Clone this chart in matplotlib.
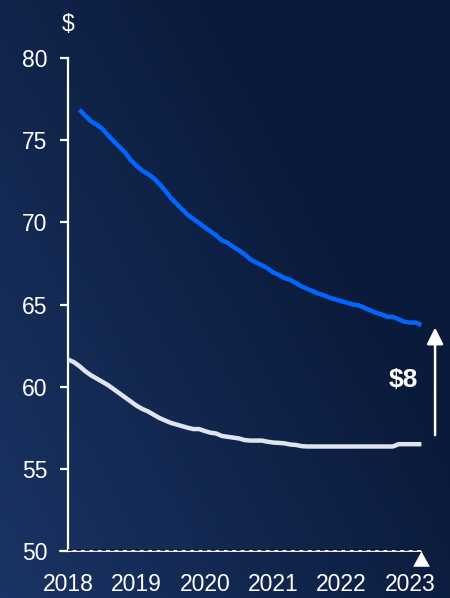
import numpy as np
import pandas as pd
import matplotlib
matplotlib.use("Agg")
import matplotlib.pyplot as plt
from matplotlib.path import Path
from matplotlib.colors import LinearSegmentedColormap

plt.rcParams['font.family'] = ['Liberation Sans', 'DejaVu Sans']

# monthly values, $
blue_start = "2018-03"
blue_vals = [76.85, 76.5, 76.15, 75.95, 75.7, 75.3, 74.95, 74.6, 74.25, 73.8,
             73.45, 73.15, 72.95, 72.7, 72.35, 71.95, 71.5, 71.15, 70.8, 70.45, 70.2, 69.95,
             69.7, 69.45, 69.2, 68.9, 68.75, 68.5, 68.3, 68.05, 67.75, 67.55, 67.4, 67.2,
             66.95, 66.8, 66.6, 66.5, 66.3, 66.1, 65.95, 65.8, 65.65, 65.55, 65.4, 65.3,
             65.2, 65.1, 65.0, 64.95, 64.8, 64.65, 64.5, 64.4, 64.25, 64.25, 64.1, 63.95,
             63.9, 63.9, 63.75]
white_start = "2018-01"
white_vals = [61.65, 61.5, 61.25, 60.95, 60.7, 60.5, 60.3, 60.1, 59.85, 59.6, 59.35, 59.1,
              58.85, 58.65, 58.5, 58.3, 58.1, 57.95, 57.8, 57.7, 57.6, 57.5, 57.42, 57.42,
              57.3, 57.2, 57.15, 57.0, 56.95, 56.9, 56.85, 56.75, 56.72, 56.72, 56.72, 56.65,
              56.6, 56.58, 56.55, 56.48, 56.45, 56.38, 56.36,
              56.36, 56.36, 56.36, 56.36, 56.36, 56.36, 56.36, 56.36, 56.36, 56.36,
              56.36, 56.36, 56.36, 56.36, 56.36,
              56.5, 56.5, 56.5, 56.5, 56.5]
years = [2018, 2019, 2020, 2021, 2022, 2023]
gap_label = "$8"


def to_year(start, n):
    d = pd.date_range(start, periods=n, freq="MS")
    return d.year + (d.month - 1) / 12


bx = to_year(blue_start, len(blue_vals))
wx = to_year(white_start, len(white_vals))

fig = plt.figure(figsize=(4.5, 5.98), dpi=100)

# background gradient, lighter toward bottom-left
bg = fig.add_axes([0, 0, 1, 1], zorder=-10)
cmap = LinearSegmentedColormap.from_list("bg", ["#1b3465", "#0a1a3a"])
gx, gy = np.meshgrid(np.linspace(0, 1, 200), np.linspace(0, 1, 200))
grad = np.clip(gx * 0.85 + gy * 0.6, 0, 1)
bg.imshow(grad, cmap=cmap, aspect="auto", origin="lower", extent=[0, 1, 0, 1])
bg.axis("off")

ax = fig.add_axes([68 / 450, 47 / 598, 370 / 450, 493 / 598])
ax.patch.set_alpha(0)
ax.set_xlim(2018, 2018 + 370 / 68.4)
ax.set_ylim(50, 80)

ax.plot(bx, blue_vals, color="#0066ff", lw=3.2, solid_capstyle="butt", zorder=3)
ax.plot(wx, white_vals, color="#dfe4ee", lw=3.2, solid_capstyle="butt", zorder=3)

for s in ["top", "right", "bottom"]:
    ax.spines[s].set_visible(False)
ax.spines["left"].set_color("white")
ax.spines["left"].set_linewidth(1.6)

# baseline: solid white with dark dashes on top
x_end = wx[-1]
ax.plot([2017.88, x_end], [50, 50], color="white", lw=1.3, clip_on=False, zorder=4)
ax.plot([2018, x_end + 0.11], [50.08, 50.08], color="#111111", lw=1.1,
        ls=(0, (3, 2.5)), clip_on=False, zorder=5)

# triangle marker under end of baseline
tri = Path([(0, 0), (-0.55, -1), (0.55, -1), (0, 0)])
ax.plot([x_end], [50], marker=tri, ms=22, color="white", mew=0,
        clip_on=False, zorder=6)

ax.set_yticks([50, 55, 60, 65, 70, 75, 80])
ax.tick_params(axis="y", colors="white", length=6, width=1.6, pad=9, labelsize=16.5)
ax.set_xticks(years)
ax.tick_params(axis="x", colors="white", length=0, pad=16, labelsize=16.5)

ax.text(0, 1.045, "$", transform=ax.transAxes, color="white", fontsize=16.5,
        ha="center", va="bottom")

# gap arrow
ax.annotate("", xy=(x_end + 0.2, blue_vals[-1] - 0.15),
            xytext=(x_end + 0.2, white_vals[-1] + 0.55),
            arrowprops=dict(arrowstyle="-|>,head_width=0.5,head_length=1.0",
                            color="white", lw=1.8, shrinkA=0, shrinkB=0),
            annotation_clip=False)
ax.text(x_end - 0.27, (blue_vals[-1] + white_vals[-1]) / 2 + 0.3, gap_label,
        color="white", fontsize=19, fontweight="bold", ha="center", va="center")

fig.savefig("out.png", dpi=100)
